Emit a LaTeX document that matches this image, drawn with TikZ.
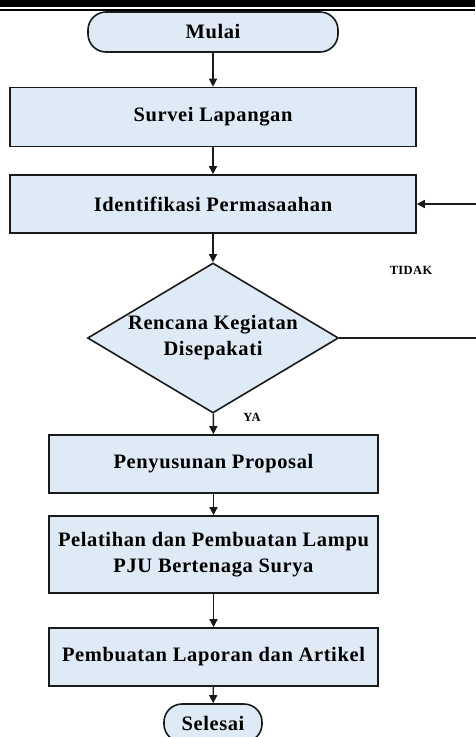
\documentclass[tikz,border=0pt]{standalone}
\usepackage{fontspec}
\setmainfont{Liberation Serif}[LetterSpace=3]
\usepackage{tikz}
\usetikzlibrary{positioning,arrows.meta,shapes.geometric}
\definecolor{ink}{HTML}{1A1A1A}
\definecolor{boxfill}{HTML}{DEEAF6}
\tikzset{
  proc/.style={rectangle, draw=ink, fill=boxfill, line width=1.6pt, inner sep=0pt, align=center, font=\fontsize{20.5}{26}\selectfont\bfseries},
  term/.style={proc, rounded corners=18pt},
  decide/.style={diamond, aspect=1.673, draw=ink, fill=boxfill, line width=1.6pt, inner sep=0pt, align=center, font=\fontsize{20.5}{26}\selectfont\bfseries},
  flow/.style={ink, line width=1.4pt, -{Triangle[length=8pt,width=8pt]}},
  tag/.style={font=\fontsize{12.5}{14}\selectfont\bfseries},
}
\begin{document}
\begin{tikzpicture}[x=1pt, y=-1pt]
\useasboundingbox (0,0) rectangle (475,737);
% header rule
\fill[black] (0,0) rectangle (475,7);
\fill[black] (0,9) rectangle (475,10.6);
% nodes
\node[term, minimum width=250, minimum height=40] (mulai) at (213,32) {Mulai};
\node[proc, minimum width=406, minimum height=59] (survei) at (213,117) {Survei Lapangan};
\node[proc, minimum width=406, minimum height=58] (identi) at (213,204) {Identifikasi Permasaahan};
\node[decide, minimum width=251, minimum height=150] (sepakat) at (213,338) {Rencana Kegiatan\\Disepakati};
\node[proc, minimum width=329, minimum height=58] (proposal) at (213.5,464) {Penyusunan Proposal};
\node[proc, minimum width=329, minimum height=77] (latih) at (213.5,554.5) {Pelatihan dan Pembuatan Lampu\\PJU Bertenaga Surya};
\node[proc, minimum width=329, minimum height=58] (lapor) at (213.5,657) {Pembuatan Laporan dan Artikel};
\node[term, minimum width=98, minimum height=38] (selesai) at (213,723) {Selesai};
\coordinate (balik) at (480,338);
% connectors
\draw[flow] (mulai) -- (survei);
\draw[flow] (survei) -- (identi);
\draw[flow] (identi) -- (sepakat);
\draw[flow] (sepakat) -- (proposal);
\draw[flow] (proposal) -- (latih);
\draw[flow] (latih) -- (lapor);
\draw[flow] (lapor) -- (selesai);
\draw[flow] (sepakat.east) -- (balik) |- (identi.east);
\node[tag] (tidak) at (411,270) {TIDAK};
\node[tag] (ya) at (252,417) {YA};
\end{tikzpicture}
\end{document}
